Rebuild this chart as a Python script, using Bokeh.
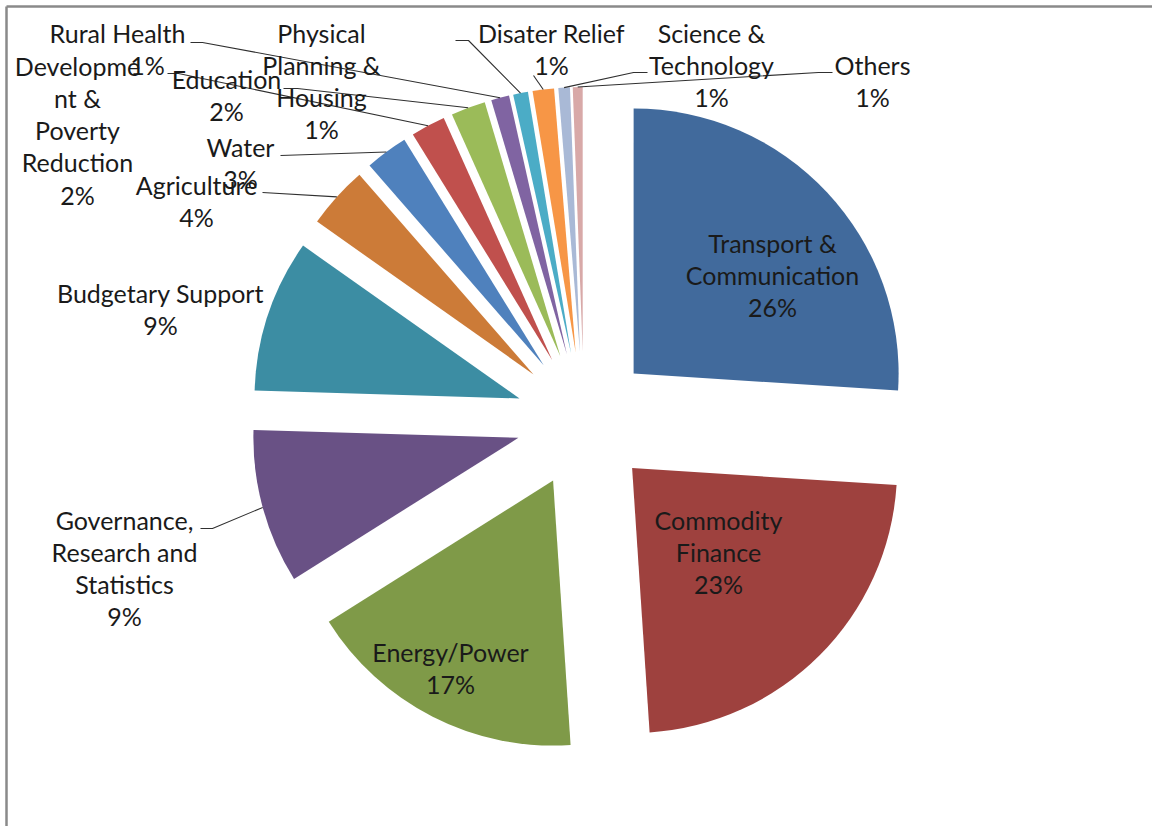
import math
from bokeh.plotting import figure
from bokeh.models import ColumnDataSource, Range1d
from bokeh.core.properties import value
from bokeh.embed import file_html
from bokeh.resources import INLINE

# ---------------- data ----------------
categories = ["Transport & Communication", "Commodity Finance", "Energy/Power",
              "Governance, Research and Statistics", "Budgetary Support", "Agriculture",
              "Water", "Development & Poverty Reduction", "Education", "Rural Health",
              "Physical Planning & Housing", "Disater Relief", "Science & Technology", "Others"]
shares = [26.0, 22.9, 17.1, 9.4, 9.3, 3.8, 2.6, 2.1, 2.1, 1.1, 0.9, 1.3, 0.7, 0.6]
label_lines = [["Transport &", "Communication"], ["Commodity", "Finance"], ["Energy/Power"],
               ["Governance,", "Research and", "Statistics"], ["Budgetary Support"], ["Agriculture"],
               ["Water"], ["Developme", "nt &", "Poverty", "Reduction"], ["Education"], ["Rural Health"],
               ["Physical", "Planning &", "Housing"], ["Disater Relief"], ["Science &", "Technology"], ["Others"]]

# ---------------- style / layout ----------------
colors = ["#416A9C", "#9E413E", "#7F9A48", "#695185", "#3C8DA3", "#CC7B38", "#4F81BD",
          "#C0504D", "#9BBB59", "#8064A2", "#4BACC6", "#F79646", "#A9B9D6", "#D8A9A8"]
W, H = 1152, 826
CX, CY = 583.5, 419.5      # pie centre (screen px)
R = 265                    # radius
EXPLODE = 68               # explosion distance
LINE_H = 32.3
FONT = "Lato"
FSIZE = "25px"
# label anchor: centre x, y of first line (screen px)
label_pos = [(772, 242), (718, 519), (450, 651), (124, 519), (160, 292), (196, 184), (240, 146),
             (77, 65), (226, 78), (117, 32), (321, 32), (551, 32), (711, 32), (872, 64)]
pct_dx = [0, 0, 0, 0, 0, 0, 0, 0, 0, 30, 0, 0, 0, 0]
# leader-line label-side points (screen px); None = no leader
leader_start = [None, None, None, [(200, 528), (212, 528)], None, [(262, 192)], [(280, 155)],
                [(167, 73), (178, 73)], [(283, 88), (297, 88)], [(190, 42), (202, 42)],
                [(455, 40), (468, 40)], [(533, 75)], [(647, 72), (633, 72)], [(832, 72), (818, 72)]]


def sy(y):
    return H - y


total = sum(shares)
cum = 0.0
cxs, cys, starts, ends, mids = [], [], [], [], []
for v in shares:
    t1 = cum / total * 2 * math.pi          # clockwise from top
    t2 = (cum + v) / total * 2 * math.pi
    tm = (t1 + t2) / 2
    cum += v
    cxs.append(CX + EXPLODE * math.sin(tm))
    cys.append(sy(CY - EXPLODE * math.cos(tm)))
    starts.append(math.pi / 2 - t2)
    ends.append(math.pi / 2 - t1)
    mids.append(tm)

p = figure(width=W, height=H, x_range=Range1d(0, W), y_range=Range1d(0, H),
           output_backend="svg", toolbar_location=None, min_border=0,
           x_axis_location=None, y_axis_location=None, outline_line_color=None)
p.xgrid.visible = False
p.ygrid.visible = False
p.background_fill_color = "white"

src = ColumnDataSource(dict(x=cxs, y=cys, start=starts, end=ends, color=colors, name=categories))
p.wedge(x="x", y="y", radius=R, start_angle="start", end_angle="end", fill_color="color",
        line_color=None, source=src)

# frame lines (chart area border)
p.line([6, W], [sy(6), sy(6)], line_color="#8a8a8a", line_width=2.5)
p.line([6, 6], [sy(6), sy(H)], line_color="#8a8a8a", line_width=2.5)

# leader lines
lxs, lys = [], []
for i, pts in enumerate(leader_start):
    if pts is None:
        continue
    tm = mids[i]
    ex = CX + (EXPLODE + R) * math.sin(tm)
    ey = CY - (EXPLODE + R) * math.cos(tm)
    xs = [q[0] for q in pts] + [ex]
    ys = [sy(q[1]) for q in pts] + [sy(ey)]
    lxs.append(xs)
    lys.append(ys)
p.multi_line(lxs, lys, line_color="#303030", line_width=1.1)

# labels
tx, ty, tt = [], [], []
for i, lines in enumerate(label_lines):
    x0, y0 = label_pos[i]
    pct = f"{round(shares[i] / total * 100):.0f}%"
    allp = lines + [pct]
    for k, s in enumerate(allp):
        dx = pct_dx[i] if k == len(allp) - 1 else 0
        tx.append(x0 + dx)
        ty.append(sy(y0 + k * LINE_H))
        tt.append(s)
p.text(tx, ty, text=tt, text_align="center", text_baseline="middle",
       text_font=value(FONT), text_font_size=FSIZE, text_color="#1a1a1a")

open("out.html", "w").write(file_html(p, INLINE))
